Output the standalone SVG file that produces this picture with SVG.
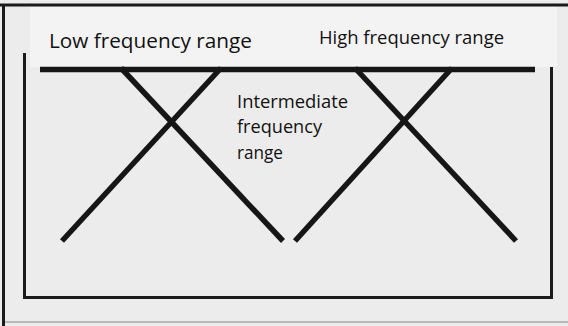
<svg xmlns="http://www.w3.org/2000/svg" width="568" height="326" viewBox="0 0 568 326">
<style>
.frame{fill:none;stroke:#1c1a1b;stroke-width:3}
.curve{fill:none;stroke:#161616;stroke-width:5.5;stroke-linecap:butt}
.lbl{font-family:"Open Sans","Liberation Sans",sans-serif;fill:#111}
</style>
<rect x="0" y="0" width="568" height="326" fill="#ececec"/>
<g id="outer-frame">
<line x1="0" y1="5" x2="568" y2="5" stroke="#1c1a1b" stroke-width="3"/>
<line x1="3.5" y1="4" x2="3.5" y2="326" stroke="#1c1a1b" stroke-width="3"/>
<line x1="5" y1="322" x2="568" y2="322" stroke="#a8a8a8" stroke-width="1.5"/>
</g>
<g id="label-band">
<rect x="30" y="7" width="527" height="60" fill="#f3f3f3"/>
</g>
<g id="inner-frame">
<path class="frame" d="M24.5 53 V297.5 H551.5 V67"/>
</g>
<g id="connectors">
<line class="curve" x1="40" y1="69.5" x2="535" y2="69.5"/>
<line class="curve" x1="121" y1="68" x2="283" y2="241"/>
<line class="curve" x1="62" y1="241" x2="221" y2="68"/>
<line class="curve" x1="295" y1="241" x2="452" y2="68"/>
<line class="curve" x1="355" y1="68" x2="516" y2="241"/>
</g>
<g id="low-label">
<text class="lbl" x="49" y="47.5" font-size="20" textLength="203" lengthAdjust="spacingAndGlyphs">Low frequency range</text>
</g>
<g id="high-label">
<text class="lbl" x="319" y="43.5" font-size="17.5" textLength="185" lengthAdjust="spacingAndGlyphs">High frequency range</text>
</g>
<g id="intermediate-label">
<text class="lbl" font-size="17.5">
<tspan x="237" y="107.5" textLength="111" lengthAdjust="spacingAndGlyphs">Intermediate</tspan>
<tspan x="237" y="133" textLength="85" lengthAdjust="spacingAndGlyphs">frequency</tspan>
<tspan x="237" y="158.5" textLength="46" lengthAdjust="spacingAndGlyphs">range</tspan>
</text>
</g>
</svg>
